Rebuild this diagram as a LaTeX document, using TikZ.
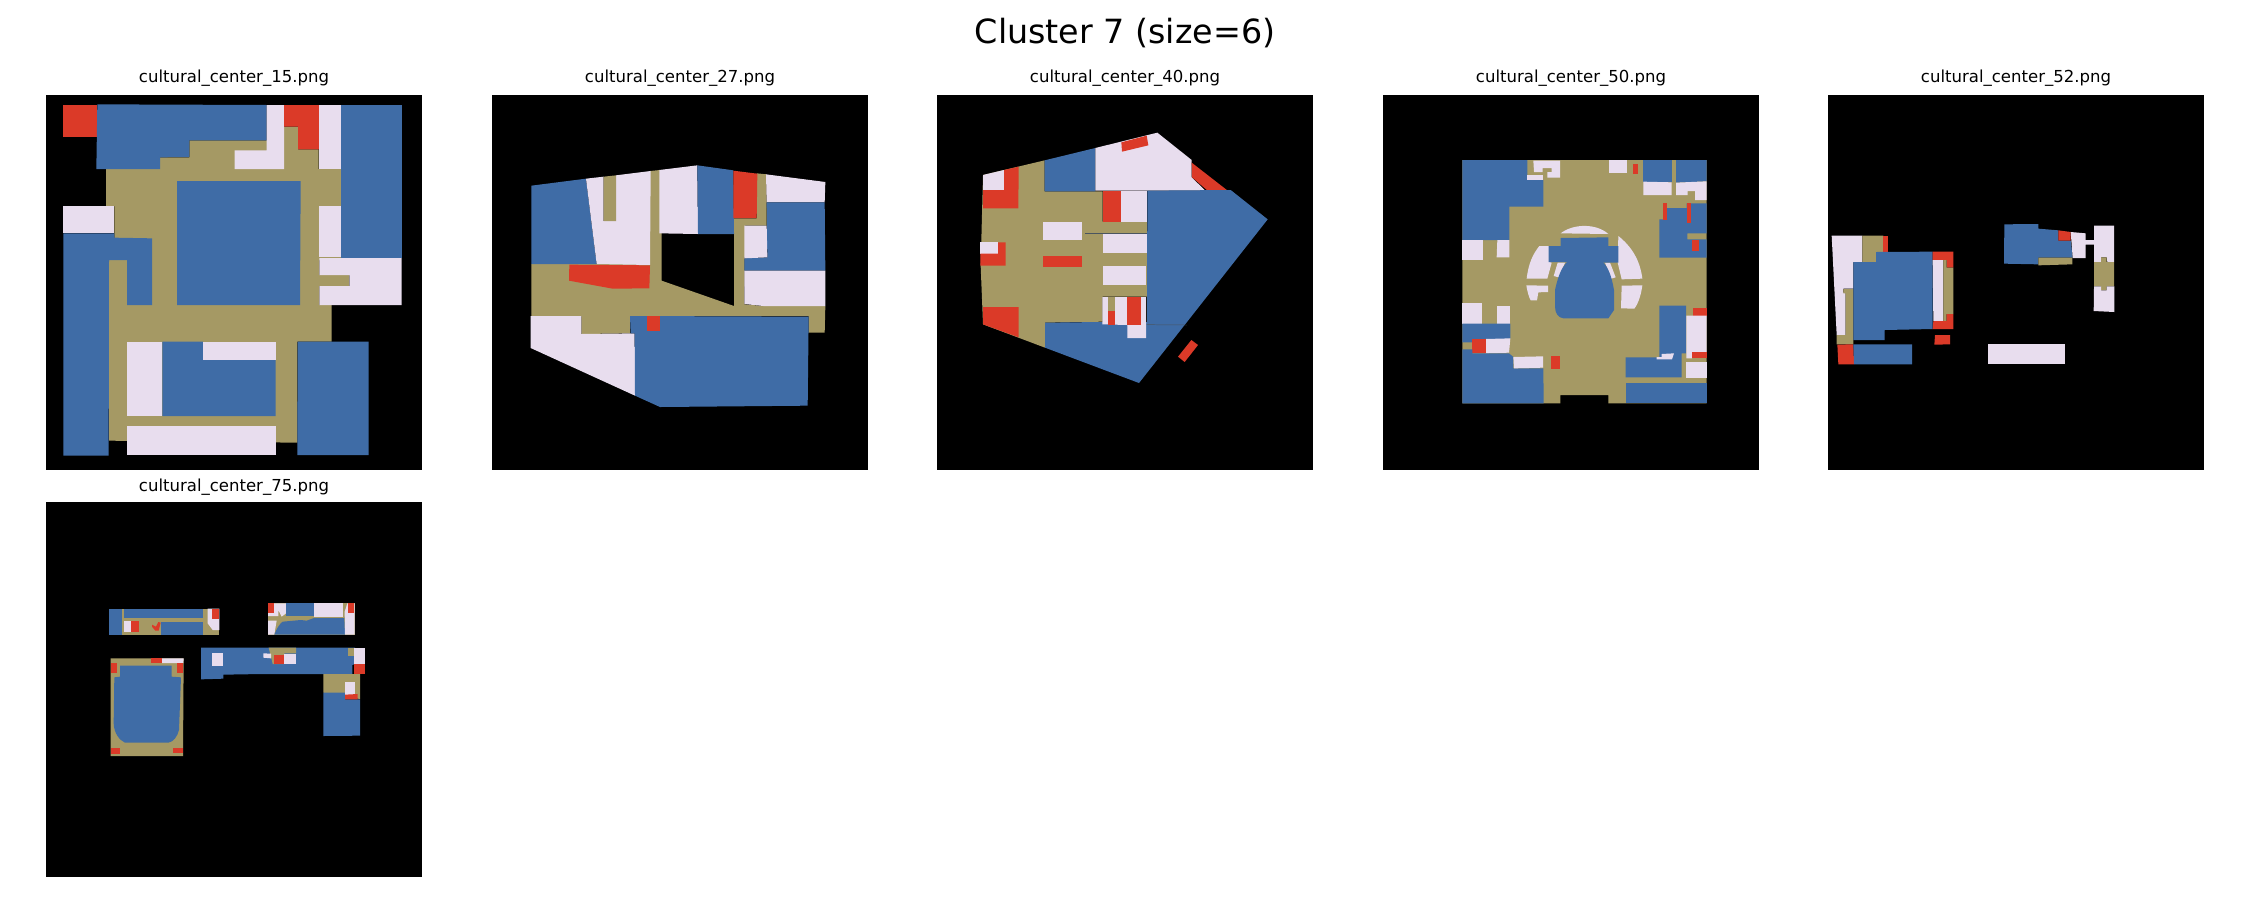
\documentclass[tikz,border=0pt]{standalone}
\usepackage{fontspec}
\setmainfont{DejaVu Sans}
\definecolor{cblue}{HTML}{3F6CA6}
\definecolor{ctan}{HTML}{A59964}
\definecolor{cwhite}{HTML}{E8DDEE}
\definecolor{cred}{HTML}{DB3A28}
\definecolor{seam}{HTML}{4A5560}
\tikzset{
 bl/.style={fill=cblue},
 tn/.style={fill=ctan},
 wh/.style={fill=cwhite},
 rd/.style={fill=cred},
 panel/.style={fill=black},
 seamline/.style={draw=seam,line width=0.35pt},
 subtitle/.style={font=\fontsize{11.9}{14}\selectfont,anchor=base,inner sep=0pt,text=black},
 bigtitle/.style={font=\fontsize{24}{28}\selectfont,anchor=base,inner sep=0pt,text=black},
 zoomed/.style={x=0.24pt,y=-0.24pt}
}
\begin{document}
\begin{tikzpicture}[x=0.72pt,y=-0.72pt]
\useasboundingbox (0,0) rectangle (2250,900);
\node[bigtitle] (maintitle) at (1125,43) {Cluster 7 (size=6)};
\node[subtitle] (t15) at (234,82) {cultural\_center\_15.png};
\node[subtitle] (t27) at (680,82) {cultural\_center\_27.png};
\node[subtitle] (t40) at (1125,82) {cultural\_center\_40.png};
\node[subtitle] (t50) at (1571,82) {cultural\_center\_50.png};
\node[subtitle] (t52) at (2016,82) {cultural\_center\_52.png};
\node[subtitle] (t75) at (234,491) {cultural\_center\_75.png};
\fill[panel] (46,95) rectangle (422,470);
\fill[panel] (492,95) rectangle (868,470);
\fill[panel] (937,95) rectangle (1313,470);
\fill[panel] (1383,95) rectangle (1759,470);
\fill[panel] (1828,95) rectangle (2204,470);
\fill[panel] (46,502) rectangle (422,877);

% ---------- panel 15
\begin{scope}[shift={(30,60)},zoomed]
\path[tn] (228,327)--(390,327)--(390,292)--(478,292)--(478,241)--(762,241)--(762,200)--(804,200)--(804,268)--(866,268)--(866,327)--(934,327)--(934,600)--(868,600)--(868,735)--(905,735)--(905,845)--(802,845)--(802,1148)--(237,1142)--(237,600)--(253,600)--(253,438)--(228,438)--cycle;
\path[tn] (868,645) rectangle (958,678);
\path[rd] (100,135)--(202,135)--(202,232)--(100,232)--cycle;
\path[bl] (202,133)--(710,135)--(710,241)--(478,241)--(478,291)--(390,292)--(390,327)--(199,327)--cycle;
\path[wh] (710,135)--(762,135)--(762,327)--(614,327)--(614,271)--(710,271)--cycle;
\path[rd] (762,135)--(868,135)--(868,268)--(804,268)--(804,200)--(762,200)--cycle;
\path[wh] (868,135)--(934,135)--(934,327)--(868,327)--cycle;
\path[bl] (934,135)--(1115,135)--(1115,594)--(934,594)--cycle;
\path[wh] (868,438)--(934,438)--(934,592)--(868,592)--cycle;
\path[wh] (868,594)--(1115,594)--(1115,735)--(868,735)--(868,678)--(958,678)--(958,645)--(868,645)--cycle;
\path[bl] (441,363)--(812,363)--(810,735)--(441,735)--cycle;
\path[wh] (100,438)--(253,438)--(253,520)--(100,520)--cycle;
\path[bl] (100,520)--(253,520)--(253,533)--(366,535)--(366,735)--(291,735)--(291,600)--(237,600)--(236,1187)--(100,1187)--cycle;
\path[wh] (291,845)--(397,845)--(397,1068)--(291,1068)--cycle;
\path[bl] (397,845)--(519,845)--(519,899)--(737,899)--(737,1068)--(397,1068)--cycle;
\path[wh] (519,845)--(737,845)--(737,899)--(519,899)--cycle;
\path[wh] (290,1098)--(737,1098)--(737,1185)--(290,1185)--cycle;
\path[bl] (803,845)--(1016,845)--(1016,1185)--(802,1185)--cycle;
\end{scope}

% ---------- panel 27
\begin{scope}[shift={(480,60)},zoomed]
\path[tn] (154,612)--(510,612)--(510,333)--(540,330)--(545,522)--(545,662)--(762,738)--(762,475)--(830,475)--(830,340)--(860,343)--(860,497)--(795,497)--(793,733)--(850,738)--(1036,738)--(1034,818)--(986,818)--(986,768)--(450,768)--(450,820)--(304,822)--(304,768)--(154,768)--cycle;
\path[bl] (154,377)--(318,356)--(350,612)--(154,612)--cycle;
\path[wh] (318,356)--(371,350)--(371,483)--(408,483)--(408,346)--(512,333)--(510,615)--(350,612)--cycle;
\path[tn] (371,350)--(408,346)--(408,483)--(371,483)--cycle;
\path[rd] (268,614)--(510,616)--(508,685)--(398,686)--(267,662)--cycle;
\path[wh] (538,330)--(652,316)--(654,522)--(538,520)--cycle;
\path[bl] (652,316)--(760,331)--(762,522)--(654,522)--cycle;
\path[rd] (760,332)--(832,341)--(830,474)--(760,474)--cycle;
\path[wh] (858,343)--(1036,366)--(1034,427)--(860,427)--cycle;
\path[bl] (860,427)--(1034,427)--(1036,632)--(793,632)--(793,595)--(862,592)--cycle;
\path[wh] (793,497)--(860,497)--(862,592)--(793,595)--cycle;
\path[wh] (793,632)--(1036,632)--(1036,738)--(850,738)--(793,732)--cycle;
\path[wh] (152,768)--(304,768)--(304,822)--(464,820)--(465,1007)--(152,864)--cycle;
\path[bl] (450,768)--(986,770)--(983,1037)--(540,1041)--(465,1007)--(464,820)--(452,820)--cycle;
\path[rd] (501,768)--(540,768)--(540,814)--(501,814)--cycle;
\end{scope}

% ---------- panel 40
\begin{scope}[shift={(930,60)},zoomed]
\path[tn] (159,345)--(344,301)--(344,394)--(518,394)--(518,485)--(651,485)--(651,710)--(518,710)--(518,785)--(345,788)--(345,863)--(159,793)--(152,618)--cycle;
\path[wh] (159,345)--(222,330)--(222,390)--(159,390)--cycle;
\path[rd] (222,330)--(266,320)--(265,445)--(159,445)--(159,390)--(222,390)--cycle;
\path[bl] (344,301)--(496,264)--(496,394)--(344,394)--cycle;
\path[wh] (496,264)--(682,218)--(785,300)--(785,352)--(826,392)--(496,392)--cycle;
\path[rd] (574,247)--(650,227)--(655,256)--(576,275)--cycle;
\path[rd] (785,308)--(893,392)--(835,394)--(786,352)--cycle;
\path[bl] (652,392)--(902,390)--(1013,478)--(627,969)--(345,863)--(345,788)--(518,786)--(651,786)--cycle;
\path[rd] (518,392)--(574,392)--(574,485)--(518,485)--cycle;
\path[wh] (574,392)--(652,392)--(652,485)--(574,485)--cycle;
\path[wh] (340,486)--(457,486)--(457,539)--(340,539)--cycle;
\path[wh] (519,522)--(651,522)--(651,580)--(519,580)--cycle;
\path[wh] (519,618)--(649,618)--(649,675)--(519,675)--cycle;
\path[wh] (151,547)--(204,547)--(204,581)--(151,581)--cycle;
\path[rd] (204,547)--(227,547)--(227,617)--(151,617)--(151,581)--(204,581)--cycle;
\path[rd] (340,589)--(456,589)--(456,621)--(340,621)--cycle;
\path[rd] (159,741)--(266,741)--(266,832)--(159,793)--cycle;
\path[wh] (517,711)--(648,711)--(648,834)--(592,834)--(592,795)--(517,793)--cycle;
\path[tn] (535,711)--(556,711)--(556,753)--(535,753)--cycle;
\path[rd] (534,753)--(556,753)--(556,795)--(534,795)--cycle;
\path[rd] (592,711)--(633,711)--(633,795)--(592,795)--cycle;
\path[rd] (784,840)--(804,855)--(764,906)--(744,890)--cycle;
\draw[seamline] (466,520)--(651,520);
\draw[seamline] (650,794)--(770,795);
\end{scope}

% ---------- panel 50
\begin{scope}[shift={(1440,140)},zoomed]
\path[tn] (67,60)--(800,60)--(800,790)--(505,790)--(505,765)--(361,765)--(361,790)--(67,790)--cycle;
\path[bl] (67,60)--(262,60)--(262,120)--(310,120)--(310,200)--(208,200)--(208,300)--(67,300)--cycle;
\path[wh] (280,62)--(360,62)--(360,113)--(322,113)--(322,96)--(335,96)--(335,84)--(308,84)--(308,96)--(282,96)--cycle;
\path[wh] (262,105)--(310,105)--(310,120)--(262,120)--cycle;
\path[wh] (507,60)--(560,60)--(560,100)--(507,100)--cycle;
\path[rd] (579,72)--(594,72)--(594,101)--(579,101)--cycle;
\path[bl] (610,60)--(695,60)--(695,125)--(610,125)--cycle;
\path[wh] (610,125)--(695,127)--(695,165)--(610,165)--cycle;
\path[bl] (708,60)--(800,60)--(800,124)--(708,128)--cycle;
\path[wh] (708,128)--(800,124)--(800,180)--(765,180)--(765,153)--(743,153)--(743,165)--(708,165)--cycle;
\path[bl] (680,204)--(740,204)--(740,190)--(800,190)--(800,280)--(742,280)--(742,298)--(800,298)--(800,353)--(658,353)--(658,238)--(680,238)--cycle;
\path[rd] (668,190)--(680,190)--(680,240)--(668,240)--cycle;
\path[rd] (740,190)--(753,190)--(753,250)--(740,250)--cycle;
\path[rd] (755,300)--(776,300)--(776,334)--(755,334)--cycle;
\path[wh] (67,301)--(129,301)--(129,360)--(67,360)--cycle;
\path[wh] (172,300)--(208,300)--(208,352)--(170,352)--cycle;
\path[wh] (67,490)--(126,490)--(126,551)--(67,551)--cycle;
\path[wh] (172,499)--(211,499)--(211,551)--(172,551)--cycle;
\path[bl] (67,551)--(211,551)--(211,596)--(137,600)--(97,600)--(97,607)--(67,607)--cycle;
\path[wh] (137,597)--(211,595)--(207,638)--(137,640)--cycle;
\path[rd] (97,597)--(137,597)--(137,640)--(97,640)--cycle;
\path[bl] (67,628)--(97,628)--(97,640)--(207,640)--(220,651)--(220,685)--(310,685)--(311,790)--(67,790)--cycle;
\path[wh] (220,651)--(309,649)--(309,683)--(222,685)--cycle;
\path[rd] (334,648)--(361,648)--(361,687)--(334,687)--cycle;
\path[bl] (658,497)--(738,497)--(738,640)--(725,640)--(725,712)--(557,712)--(557,652)--(658,652)--cycle;
\path[wh] (650,651)--(665,651)--(665,642)--(702,640)--(696,658)--(650,658)--cycle;
\path[bl] (557,729)--(800,729)--(800,790)--(557,790)--cycle;
\path[rd] (758,503)--(800,503)--(800,527)--(758,527)--cycle;
\path[wh] (739,527)--(800,527)--(800,637)--(756,637)--(756,655)--(739,655)--cycle;
\path[rd] (756,637)--(800,637)--(800,655)--(756,655)--cycle;
\path[wh] (737,665)--(800,665)--(800,713)--(737,713)--cycle;
% centre
\path[wh] (362,280) .. controls (400,250) and (470,250) .. (505,282) -- cycle;
\path[wh] (260,416) .. controls (265,370) and (280,340) .. (298,318) -- (328,318) -- (328,366) -- (335,368) -- (322,416) -- cycle;
\path[wh] (535,288) .. controls (575,320) and (600,360) .. (607,416) -- (545,418) -- (533,368) -- cycle;
\path[wh] (353,368)--(375,368)--(356,412)--(341,408)--cycle;
\path[wh] (510,368)--(527,412)--(514,416)--(495,368)--cycle;
\path[bl] (385,362) -- (485,362) .. controls (505,380) and (515,410) .. (522,450) -- (522,510) -- (505,535) -- (370,535) .. controls (355,533) and (345,520) .. (345,500) -- (345,450) .. controls (352,420) and (360,385) .. (385,362) -- cycle;
\path[bl] (362,294)--(505,292)--(505,318)--(535,318)--(535,368)--(326,366)--(326,318)--(362,318)--cycle;
\path[wh] (259,436)--(324,437)--(324,456)--(295,457)--(291,481)--(272,481) .. controls (266,470) and (262,455) .. (259,436) -- cycle;
\path[wh] (545,437)--(607,436) .. controls (603,465) and (595,490) .. (583,506) -- (543,505) -- cycle;
\end{scope}

% ---------- panel 52
\begin{scope}[shift={(1800,200)},zoomed]
\path[wh] (95,107)--(187,107)--(187,186)--(160,186)--(160,266)--(130,266)--(130,278)--(137,278)--(137,405)--(110,405)--cycle;
\path[tn] (187,107)--(250,107)--(250,156)--(228,156)--(228,186)--(187,186)--cycle;
\path[rd] (250,107)--(263,107)--(263,155)--(250,155)--cycle;
\path[tn] (130,267)--(160,267)--(160,433)--(110,433)--(110,405)--(137,405)--(137,280)--(130,280)--cycle;
\path[bl] (228,156)--(398,155)--(398,387)--(254,390)--(254,420)--(160,420)--(160,186)--(228,186)--cycle;
\path[rd] (398,155)--(460,155)--(460,203)--(440,203)--(440,180)--(398,180)--cycle;
\path[wh] (398,180)--(430,180)--(430,363)--(400,363)--cycle;
\path[tn] (430,180)--(440,180)--(440,203)--(460,203)--(460,342)--(440,342)--(440,363)--(430,363)--cycle;
\path[rd] (400,363)--(440,363)--(440,342)--(460,342)--(460,387)--(398,387)--cycle;
\path[rd] (405,405)--(450,405)--(450,433)--(403,434)--cycle;
\path[rd] (112,434)--(160,433)--(162,493)--(115,493)--cycle;
\path[bl] (160,433)--(336,433)--(336,493)--(162,493)--cycle;
\path[wh] (563,433)--(796,433)--(796,493)--(563,493)--cycle;
\path[bl] (613,73)--(715,72)--(715,86)--(775,91)--(775,122)--(812,122)--(818,173)--(715,173)--(715,193)--(612,191)--cycle;
\path[rd] (775,91)--(812,96)--(812,122)--(775,122)--cycle;
\path[tn] (715,173)--(817,173)--(817,193)--(715,196)--cycle;
\path[wh] (812,96)--(857,100)--(857,120)--(882,120)--(882,77)--(942,77)--(942,186)--(922,186)--(920,172)--(903,172)--(903,186)--(882,186)--(882,134)--(857,134)--(857,174)--(818,174)--cycle;
\path[tn] (882,186)--(903,186)--(903,172)--(920,172)--(920,186)--(942,186)--(942,259)--(920,259)--(920,271)--(903,271)--(903,259)--(882,259)--cycle;
\path[wh] (882,259)--(903,259)--(903,271)--(920,271)--(920,259)--(943,259)--(943,336)--(881,333)--cycle;
\end{scope}

% ---------- panel 75
\begin{scope}[shift={(90,590)},zoomed]
% upper left block
\path[tn] (58,56)--(388,56)--(388,134)--(58,134)--cycle;
\path[bl] (58,56)--(96,56)--(96,134)--(58,134)--cycle;
\path[bl] (102,56)--(340,56)--(340,83)--(102,83)--cycle;
\path[bl] (213,96)--(340,96)--(340,134)--(213,134)--cycle;
\path[wh] (353,56)--(388,56)--(388,120)--(368,120)--(353,100)--cycle;
\path[rd] (365,56)--(388,56)--(388,87)--(365,87)--cycle;
\path[wh] (102,93)--(122,93)--(122,126)--(102,126)--cycle;
\path[rd] (124,93)--(148,93)--(148,125)--(124,125)--cycle;
\path[rd] (186,104)--(198,110)--(205,96)--(212,98)--(206,122)--(196,122)--(186,110)--cycle;
% upper right block
\path[tn] (534,40)--(794,40)--(794,134)--(534,134)--cycle;
\path[wh] (534,40)--(588,40)--(588,70)--(575,80)--(565,60)--(565,78)--(534,78)--cycle;
\path[wh] (534,92)--(560,92)--(553,134)--(534,134)--cycle;
\path[rd] (534,40)--(553,40)--(553,68)--(534,68)--cycle;
\path[bl] (588,40)--(672,40)--(672,78)--(588,78)--cycle;
\path[wh] (672,40)--(758,40)--(758,80)--(672,80)--cycle;
\path[bl] (553,134) .. controls (560,115) and (570,100) .. (578,95) -- (632,90)--(650,92)--(672,84)--(763,84)--(765,134)--cycle;
\path[wh] (764,65)--(772,40)--(794,40)--(794,134)--(765,134)--cycle;
\path[rd] (775,40)--(793,40)--(793,68)--(775,68)--cycle;
% theatre block
\path[tn] (62,205)--(281,205)--(279,498)--(62,498)--cycle;
\path[wh] (215,205)--(281,205)--(280,219)--(215,219)--cycle;
\path[rd] (184,205)--(215,205)--(215,218)--(184,218)--cycle;
\path[rd] (63,219)--(82,219)--(82,250)--(63,250)--cycle;
\path[rd] (262,219)--(280,219)--(280,250)--(262,250)--cycle;
\path[rd] (62,474)--(90,474)--(90,491)--(62,491)--cycle;
\path[rd] (250,473)--(279,473)--(279,490)--(250,490)--cycle;
\path[bl] (90,227)--(245,227)--(245,260)--(273,262)--(267,420) .. controls (262,440) and (250,456) .. (235,458) -- (105,458) .. controls (88,450) and (72,430) .. (71,400) -- (73,262)--(90,260)--cycle;
% long bar block
\path[bl] (333,173)--(795,173)--(795,222)--(787,225)--(787,252)--(516,252)--(400,254)--(400,266)--(333,268)--cycle;
\path[tn] (536,173)--(618,173)--(618,190)--(583,190)--(583,222)--(548,222)--(543,200)--cycle;
\path[wh] (367,190)--(400,190)--(400,228)--(367,228)--cycle;
\path[wh] (520,190)--(543,191)--(543,205)--(520,203)--cycle;
\path[wh] (583,191)--(618,191)--(618,221)--(583,221)--cycle;
\path[rd] (551,195)--(583,195)--(583,222)--(551,222)--cycle;
\path[tn] (773,173)--(793,173)--(793,197)--(773,197)--cycle;
\path[wh] (793,173)--(825,173)--(825,222)--(793,222)--cycle;
\path[rd] (793,222)--(825,222)--(825,252)--(793,252)--cycle;
\path[tn] (700,252)--(810,252)--(810,327)--(700,308)--cycle;
\path[bl] (700,308)--(765,308)--(765,328)--(810,328)--(810,437)--(700,438)--cycle;
\path[wh] (765,277)--(796,277)--(796,314)--(765,314)--cycle;
\path[rd] (765,314)--(803,312)--(803,328)--(765,328)--cycle;
\end{scope}
\end{tikzpicture}
\end{document}
